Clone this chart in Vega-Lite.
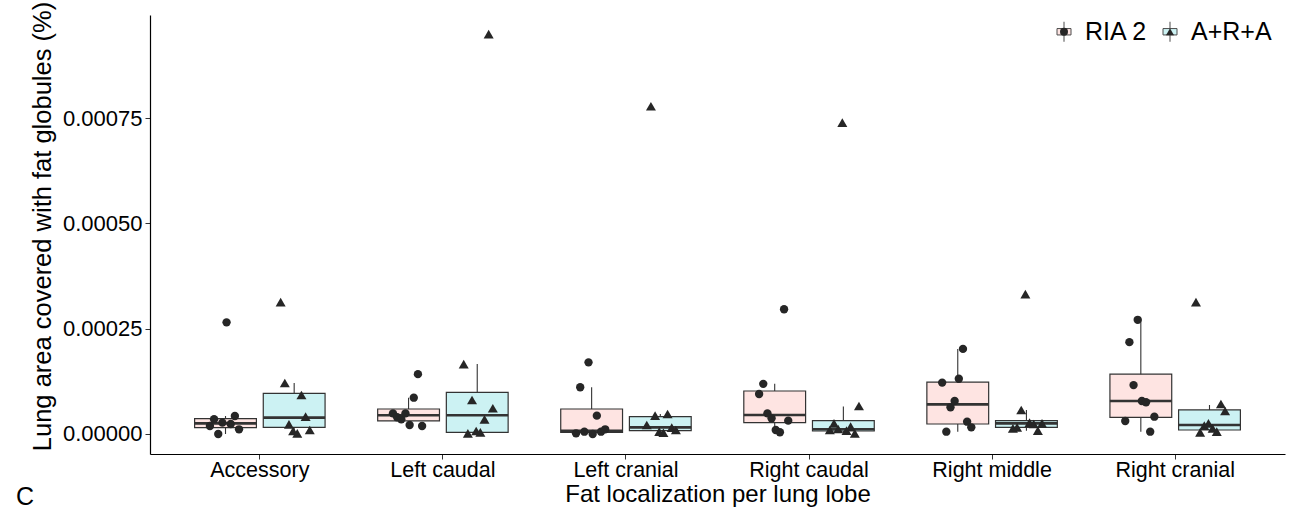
{
  "$schema": "https://vega.github.io/schema/vega-lite/v6.json",
  "width": 1135,
  "height": 439,
  "autosize": {"type": "none"},
  "padding": {"left": 150, "top": 15, "right": 7, "bottom": 58},
  "title": {"text": "C", "orient": "bottom", "anchor": "start", "frame": "group", "dx": -134, "offset": -22, "fontSize": 25, "fontWeight": "normal", "color": "black", "font": "Liberation Sans"},
  "config": {
    "font": "Liberation Sans",
    "view": {"stroke": null},
    "axis": {"labelColor": "black", "titleColor": "black", "titleFontWeight": "normal", "domainColor": "black", "tickColor": "#333333", "grid": false}
  },
  "datasets": {
    "boxes": [
      {"lobe": "Accessory", "group": "RIA 2", "lower": 0, "q1": 1.50e-5, "median": 2.53e-5, "q3": 3.63e-5, "upper": 4.27e-5},
      {"lobe": "Accessory", "group": "A+R+A", "lower": 0.16e-5, "q1": 1.58e-5, "median": 3.88e-5, "q3": 9.65e-5, "upper": 12.1e-5},
      {"lobe": "Left caudal", "group": "RIA 2", "lower": 1.90e-5, "q1": 3.09e-5, "median": 4.43e-5, "q3": 5.93e-5, "upper": 8.62e-5},
      {"lobe": "Left caudal", "group": "A+R+A", "lower": 0.16e-5, "q1": 0.40e-5, "median": 4.43e-5, "q3": 9.89e-5, "upper": 16.6e-5},
      {"lobe": "Left cranial", "group": "RIA 2", "lower": 0, "q1": 0.40e-5, "median": 0.75e-5, "q3": 5.93e-5, "upper": 11.1e-5},
      {"lobe": "Left cranial", "group": "A+R+A", "lower": 0.3e-5, "q1": 0.79e-5, "median": 1.58e-5, "q3": 4.11e-5, "upper": 4.75e-5},
      {"lobe": "Right caudal", "group": "RIA 2", "lower": 0.40e-5, "q1": 2.69e-5, "median": 4.51e-5, "q3": 10.2e-5, "upper": 11.9e-5},
      {"lobe": "Right caudal", "group": "A+R+A", "lower": 0.16e-5, "q1": 0.71e-5, "median": 1.11e-5, "q3": 3.17e-5, "upper": 6.5e-5},
      {"lobe": "Right middle", "group": "RIA 2", "lower": 0.55e-5, "q1": 2.37e-5, "median": 7.04e-5, "q3": 12.3e-5, "upper": 20.2e-5},
      {"lobe": "Right middle", "group": "A+R+A", "lower": 0.79e-5, "q1": 1.58e-5, "median": 2.53e-5, "q3": 3.17e-5, "upper": 5.70e-5},
      {"lobe": "Right cranial", "group": "RIA 2", "lower": 0.55e-5, "q1": 3.96e-5, "median": 7.83e-5, "q3": 14.2e-5, "upper": 27.1e-5},
      {"lobe": "Right cranial", "group": "A+R+A", "lower": 0.40e-5, "q1": 0.95e-5, "median": 2.14e-5, "q3": 5.70e-5, "upper": 6.88e-5}
    ],
    "points": [
      {"lobe": "Accessory", "treatment": "RIA 2", "k": "R1", "v": 1.90e-5},
      {"lobe": "Accessory", "treatment": "RIA 2", "k": "R2", "v": 3.49e-5},
      {"lobe": "Accessory", "treatment": "RIA 2", "k": "R3", "v": 0.0},
      {"lobe": "Accessory", "treatment": "RIA 2", "k": "R4", "v": 2.69e-5},
      {"lobe": "Accessory", "treatment": "RIA 2", "k": "R5", "v": 26.5e-5},
      {"lobe": "Accessory", "treatment": "RIA 2", "k": "R6", "v": 2.37e-5},
      {"lobe": "Accessory", "treatment": "RIA 2", "k": "R7", "v": 4.27e-5},
      {"lobe": "Accessory", "treatment": "RIA 2", "k": "R8", "v": 1.11e-5},
      {"lobe": "Accessory", "treatment": "A+R+A", "k": "A1", "v": 31.3e-5},
      {"lobe": "Accessory", "treatment": "A+R+A", "k": "A2", "v": 12.1e-5},
      {"lobe": "Accessory", "treatment": "A+R+A", "k": "A3", "v": 2.30e-5},
      {"lobe": "Accessory", "treatment": "A+R+A", "k": "A4", "v": 0.71e-5},
      {"lobe": "Accessory", "treatment": "A+R+A", "k": "A5", "v": 0.16e-5},
      {"lobe": "Accessory", "treatment": "A+R+A", "k": "A6", "v": 9.26e-5},
      {"lobe": "Accessory", "treatment": "A+R+A", "k": "A7", "v": 4.11e-5},
      {"lobe": "Accessory", "treatment": "A+R+A", "k": "A8", "v": 0.95e-5},
      {"lobe": "Left caudal", "treatment": "RIA 2", "k": "R1", "v": 4.90e-5},
      {"lobe": "Left caudal", "treatment": "RIA 2", "k": "R2", "v": 3.96e-5},
      {"lobe": "Left caudal", "treatment": "RIA 2", "k": "R3", "v": 3.48e-5},
      {"lobe": "Left caudal", "treatment": "RIA 2", "k": "R4", "v": 4.90e-5},
      {"lobe": "Left caudal", "treatment": "RIA 2", "k": "R5", "v": 2.14e-5},
      {"lobe": "Left caudal", "treatment": "RIA 2", "k": "R6", "v": 8.62e-5},
      {"lobe": "Left caudal", "treatment": "RIA 2", "k": "R7", "v": 14.2e-5},
      {"lobe": "Left caudal", "treatment": "RIA 2", "k": "R8", "v": 1.90e-5},
      {"lobe": "Left caudal", "treatment": "A+R+A", "k": "A1", "v": 16.6e-5},
      {"lobe": "Left caudal", "treatment": "A+R+A", "k": "A2", "v": 0.16e-5},
      {"lobe": "Left caudal", "treatment": "A+R+A", "k": "A3", "v": 8.07e-5},
      {"lobe": "Left caudal", "treatment": "A+R+A", "k": "A4", "v": 0.71e-5},
      {"lobe": "Left caudal", "treatment": "A+R+A", "k": "A5", "v": 0.40e-5},
      {"lobe": "Left caudal", "treatment": "A+R+A", "k": "A6", "v": 3.48e-5},
      {"lobe": "Left caudal", "treatment": "A+R+A", "k": "A7", "v": 94.9e-5},
      {"lobe": "Left caudal", "treatment": "A+R+A", "k": "A8", "v": 6.10e-5},
      {"lobe": "Left cranial", "treatment": "RIA 2", "k": "R1", "v": 0.16e-5},
      {"lobe": "Left cranial", "treatment": "RIA 2", "k": "R2", "v": 11.1e-5},
      {"lobe": "Left cranial", "treatment": "RIA 2", "k": "R3", "v": 0.55e-5},
      {"lobe": "Left cranial", "treatment": "RIA 2", "k": "R4", "v": 17.0e-5},
      {"lobe": "Left cranial", "treatment": "RIA 2", "k": "R5", "v": 0.0},
      {"lobe": "Left cranial", "treatment": "RIA 2", "k": "R6", "v": 4.35e-5},
      {"lobe": "Left cranial", "treatment": "RIA 2", "k": "R7", "v": 0.55e-5},
      {"lobe": "Left cranial", "treatment": "RIA 2", "k": "R8", "v": 1.11e-5},
      {"lobe": "Left cranial", "treatment": "A+R+A", "k": "A1", "v": 2.14e-5},
      {"lobe": "Left cranial", "treatment": "A+R+A", "k": "A2", "v": 77.8e-5},
      {"lobe": "Left cranial", "treatment": "A+R+A", "k": "A3", "v": 4.35e-5},
      {"lobe": "Left cranial", "treatment": "A+R+A", "k": "A4", "v": 0.55e-5},
      {"lobe": "Left cranial", "treatment": "A+R+A", "k": "A5", "v": 0.3e-5},
      {"lobe": "Left cranial", "treatment": "A+R+A", "k": "A6", "v": 4.75e-5},
      {"lobe": "Left cranial", "treatment": "A+R+A", "k": "A7", "v": 1.50e-5},
      {"lobe": "Left cranial", "treatment": "A+R+A", "k": "A8", "v": 0.95e-5},
      {"lobe": "Right caudal", "treatment": "RIA 2", "k": "R1", "v": 9.49e-5},
      {"lobe": "Right caudal", "treatment": "RIA 2", "k": "R2", "v": 11.9e-5},
      {"lobe": "Right caudal", "treatment": "RIA 2", "k": "R3", "v": 4.90e-5},
      {"lobe": "Right caudal", "treatment": "RIA 2", "k": "R4", "v": 3.72e-5},
      {"lobe": "Right caudal", "treatment": "RIA 2", "k": "R5", "v": 0.95e-5},
      {"lobe": "Right caudal", "treatment": "RIA 2", "k": "R6", "v": 0.40e-5},
      {"lobe": "Right caudal", "treatment": "RIA 2", "k": "R7", "v": 29.6e-5},
      {"lobe": "Right caudal", "treatment": "RIA 2", "k": "R8", "v": 3.17e-5},
      {"lobe": "Right caudal", "treatment": "A+R+A", "k": "A1", "v": 0.95e-5},
      {"lobe": "Right caudal", "treatment": "A+R+A", "k": "A2", "v": 2.53e-5},
      {"lobe": "Right caudal", "treatment": "A+R+A", "k": "A3", "v": 1.19e-5},
      {"lobe": "Right caudal", "treatment": "A+R+A", "k": "A4", "v": 73.9e-5},
      {"lobe": "Right caudal", "treatment": "A+R+A", "k": "A5", "v": 0.79e-5},
      {"lobe": "Right caudal", "treatment": "A+R+A", "k": "A6", "v": 1.74e-5},
      {"lobe": "Right caudal", "treatment": "A+R+A", "k": "A7", "v": 0.16e-5},
      {"lobe": "Right caudal", "treatment": "A+R+A", "k": "A8", "v": 6.65e-5},
      {"lobe": "Right middle", "treatment": "RIA 2", "k": "R1", "v": 12.2e-5},
      {"lobe": "Right middle", "treatment": "RIA 2", "k": "R2", "v": 0.55e-5},
      {"lobe": "Right middle", "treatment": "RIA 2", "k": "R3", "v": 6.33e-5},
      {"lobe": "Right middle", "treatment": "RIA 2", "k": "R4", "v": 7.83e-5},
      {"lobe": "Right middle", "treatment": "RIA 2", "k": "R5", "v": 13.1e-5},
      {"lobe": "Right middle", "treatment": "RIA 2", "k": "R6", "v": 20.2e-5},
      {"lobe": "Right middle", "treatment": "RIA 2", "k": "R7", "v": 2.92e-5},
      {"lobe": "Right middle", "treatment": "RIA 2", "k": "R8", "v": 1.58e-5},
      {"lobe": "Right middle", "treatment": "A+R+A", "k": "A1", "v": 1.35e-5},
      {"lobe": "Right middle", "treatment": "A+R+A", "k": "A2", "v": 1.58e-5},
      {"lobe": "Right middle", "treatment": "A+R+A", "k": "A3", "v": 5.70e-5},
      {"lobe": "Right middle", "treatment": "A+R+A", "k": "A4", "v": 33.2e-5},
      {"lobe": "Right middle", "treatment": "A+R+A", "k": "A5", "v": 2.70e-5},
      {"lobe": "Right middle", "treatment": "A+R+A", "k": "A6", "v": 2.37e-5},
      {"lobe": "Right middle", "treatment": "A+R+A", "k": "A7", "v": 0.79e-5},
      {"lobe": "Right middle", "treatment": "A+R+A", "k": "A8", "v": 2.53e-5},
      {"lobe": "Right cranial", "treatment": "RIA 2", "k": "R1", "v": 3.09e-5},
      {"lobe": "Right cranial", "treatment": "RIA 2", "k": "R2", "v": 21.8e-5},
      {"lobe": "Right cranial", "treatment": "RIA 2", "k": "R3", "v": 11.6e-5},
      {"lobe": "Right cranial", "treatment": "RIA 2", "k": "R4", "v": 27.1e-5},
      {"lobe": "Right cranial", "treatment": "RIA 2", "k": "R5", "v": 7.83e-5},
      {"lobe": "Right cranial", "treatment": "RIA 2", "k": "R6", "v": 7.52e-5},
      {"lobe": "Right cranial", "treatment": "RIA 2", "k": "R7", "v": 0.55e-5},
      {"lobe": "Right cranial", "treatment": "RIA 2", "k": "R8", "v": 4.11e-5},
      {"lobe": "Right cranial", "treatment": "A+R+A", "k": "A1", "v": 31.3e-5},
      {"lobe": "Right cranial", "treatment": "A+R+A", "k": "A2", "v": 0.40e-5},
      {"lobe": "Right cranial", "treatment": "A+R+A", "k": "A3", "v": 2.0e-5},
      {"lobe": "Right cranial", "treatment": "A+R+A", "k": "A4", "v": 2.53e-5},
      {"lobe": "Right cranial", "treatment": "A+R+A", "k": "A5", "v": 1.35e-5},
      {"lobe": "Right cranial", "treatment": "A+R+A", "k": "A6", "v": 0.55e-5},
      {"lobe": "Right cranial", "treatment": "A+R+A", "k": "A7", "v": 7.12e-5},
      {"lobe": "Right cranial", "treatment": "A+R+A", "k": "A8", "v": 5.46e-5}
    ]
  },
  "encoding": {
    "x": {
      "field": "lobe", "type": "nominal",
      "scale": {"domain": ["Accessory", "Left caudal", "Left cranial", "Right caudal", "Right middle", "Right cranial"], "paddingInner": 0, "paddingOuter": 0.1},
      "axis": {"title": "Fat localization per lung lobe", "labelAngle": 0, "labelFontSize": 21.5, "titleFontSize": 24, "tickSize": 5, "labelPadding": 0, "titlePadding": 2, "domainWidth": 1.2}
    }
  },
  "layer": [
    {
      "data": {"name": "boxes"},
      "mark": {"type": "rule", "color": "#333333", "strokeWidth": 1.1},
      "encoding": {
        "xOffset": {"field": "group", "type": "nominal", "scale": {"domain": ["RIA 2", "A+R+A"], "paddingInner": 0.1, "paddingOuter": 0.383}},
        "y": {"field": "lower", "type": "quantitative", "scale": {"domain": [-0.0000475, 0.0009945], "nice": false, "zero": false},
              "axis": {"title": "Lung area covered with fat globules (%)", "values": [0, 0.00025, 0.0005, 0.00075], "format": ".5f", "labelFontSize": 22, "titleFontSize": 25.5, "titleY": 211, "tickSize": 5, "labelPadding": 3, "titlePadding": 7, "domainWidth": 1.2}},
        "y2": {"field": "upper"}
      }
    },
    {
      "data": {"name": "boxes"},
      "mark": {"type": "bar", "stroke": "#333333", "strokeWidth": 1.2, "opacity": 1},
      "encoding": {
        "xOffset": {"field": "group", "type": "nominal", "scale": {"domain": ["RIA 2", "A+R+A"], "paddingInner": 0.1, "paddingOuter": 0.383}},
        "y": {"field": "q1", "type": "quantitative"},
        "y2": {"field": "q3"},
        "fill": {
          "field": "group", "type": "nominal",
          "scale": {"domain": ["RIA 2", "A+R+A"], "range": ["#FEE4E2", "#CCF2F3"]},
          "legend": {"title": null, "orient": "none", "legendX": 901.5, "legendY": 4, "direction": "horizontal", "padding": 0,
                     "symbolType": "M-0.7,-0.32H0.7V0.32H-0.7Z M0,-1V-0.32 M0,0.32V1", "symbolSize": 400, "symbolStrokeColor": "#4d4d4d", "symbolStrokeWidth": 1, "symbolOpacity": 1,
                     "labelFontSize": 25, "labelOffset": 8.5, "columnPadding": 9, "labelColor": "black", "zindex": 0}
        }
      }
    },
    {
      "data": {"name": "boxes"},
      "mark": {"type": "bar", "stroke": "#333333", "strokeWidth": 2.6, "fill": null},
      "encoding": {
        "xOffset": {"field": "group", "type": "nominal", "scale": {"domain": ["RIA 2", "A+R+A"], "paddingInner": 0.1, "paddingOuter": 0.383}},
        "y": {"field": "median", "type": "quantitative"},
        "y2": {"field": "median"}
      }
    },
    {
      "data": {"name": "points"},
      "mark": {"type": "point", "filled": true, "color": "#262626", "opacity": 1},
      "encoding": {
        "xOffset": {"field": "k", "type": "nominal", "scale": {"domain": ["p1","p2","p3","p4","p5","p6","p7","p8","p9","p10","R1","R2","R3","R4","R5","R6","R7","R8","g1","g2","g3","g4","g5","g6","g7","g8","g9","A1","A2","A3","A4","A5","A6","A7","A8","q1","q2","q3","q4","q5","q6","q7","q8","q9","q10"], "paddingInner": 0, "paddingOuter": 0}},
        "y": {"field": "v", "type": "quantitative"},
        "shape": {
          "field": "treatment", "type": "nominal", "sort": ["RIA 2", "A+R+A"],
          "scale": {"range": ["circle", "triangle-up"]},
          "legend": {"title": null, "orient": "none", "legendX": 901.5, "legendY": 4, "direction": "horizontal", "padding": 0,
                     "symbolSize": 64, "symbolFillColor": "#262626", "symbolStrokeWidth": 0, "symbolOpacity": 1,
                     "labelFontSize": 25, "labelOffset": 8.5, "columnPadding": 9, "labelOpacity": 0, "zindex": 1}
        },
        "size": {"field": "treatment", "type": "nominal", "sort": ["RIA 2", "A+R+A"], "scale": {"range": [70, 100]}, "legend": null}
      }
    }
  ],
  "resolve": {"scale": {"xOffset": "independent"}}
}
